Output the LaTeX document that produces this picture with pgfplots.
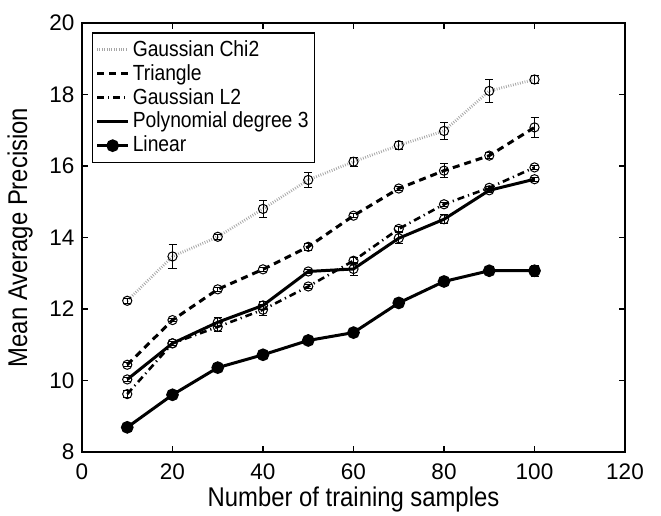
\documentclass[border=0pt]{standalone}
\usepackage{pgfplots}
\pgfplotsset{compat=1.18}
\usepackage{fontspec}
\setmainfont{Liberation Sans}
\newfontfamily\condfont{Liberation Sans}[FakeStretch=0.88]
\pgfplotsset{
  shortline/.style={legend image code/.code={\draw[##1] (0cm,0cm) -- (0.55cm,0cm);}},
  shortmark/.style={legend image code/.code={\draw[mark repeat=2, mark phase=2, ##1] plot coordinates {(0cm,0cm)(0.275cm,0cm)(0.55cm,0cm)};}},
}
\begin{document}
\fontsize{11}{13}\selectfont
\begin{tikzpicture}
\begin{axis}[
  scale only axis, width=271.5bp, height=214.5bp,
  xmin=0, xmax=120, ymin=8, ymax=20,
  xtick={0,20,...,120}, ytick={8,10,...,20},
  tick align=inside, major tick length=3bp,
  axis line style={line width=0.8bp}, every tick/.style={line width=0.6bp, black},
  /pgf/number format/assume math mode=true,
  tick label style={font=\fontsize{11.3}{13}\selectfont},
  xticklabel style={yshift=-2bp},
  xlabel={Number of training samples},
  ylabel={Mean Average Precision},
  every axis x label/.style={at={(axis description cs:0.5,-0.128)}, anchor=base, font=\condfont\fontsize{13.6}{15}\selectfont},
  every axis y label/.style={at={(axis description cs:-0.0902,0.5)}, rotate=90, anchor=south, inner sep=0pt, font=\condfont\fontsize{13.6}{15}\selectfont},
  legend style={at={(axis description cs:0.018,0.979)}, anchor=north west, draw=black, line width=0.8bp, fill=white, font=\condfont\fontsize{11}{13}\selectfont, inner xsep=1.5bp, inner ysep=1.5bp, row sep=-2bp,
    nodes={inner xsep=1.5bp, inner ysep=2.2bp}},
  legend cell align=left,
  shortline,
  error bars/error bar style={line width=0.5bp, black, solid},
  error bars/error mark options={rotate=90, mark size=2bp, line width=0.5bp, black, solid},
]
% Gaussian Chi2
\addplot[gray!70, line width=1.4bp, dash pattern=on 0.4bp off 0.8bp] coordinates {
(10,12.23)(20,13.47)(30,14.02)(40,14.80)(50,15.61)(60,16.12)(70,16.58)(80,16.98)(90,18.10)(100,18.42)};
\addlegendentry{Gaussian Chi2}
% Triangle
\addplot[black, line width=1.5bp, dash pattern=on 3.5bp off 2.5bp] coordinates {
(10,10.44)(20,11.69)(30,12.55)(40,13.11)(50,13.74)(60,14.61)(70,15.37)(80,15.87)(90,16.29)(100,17.08)};
\addlegendentry{Triangle}
% Gaussian L2
\addplot[black, line width=1.3bp, dash pattern=on 3.5bp off 2bp on 0.6bp off 2bp] coordinates {
(10,9.62)(20,11.04)(30,11.50)(40,11.98)(50,12.63)(60,13.35)(70,14.24)(80,14.93)(90,15.39)(100,15.96)};
\addlegendentry{Gaussian L2}
% Polynomial degree 3
\addplot[black, line width=1.5bp] coordinates {
(10,10.03)(20,11.04)(30,11.63)(40,12.10)(50,13.05)(60,13.12)(70,13.98)(80,14.51)(90,15.32)(100,15.63)};
\addlegendentry{Polynomial degree 3}
% Linear
\addplot[black, line width=1.5bp, mark=*, mark size=2.4bp, mark options={solid, fill=black}, shortmark,
  error bars/.cd, y dir=both, y explicit] coordinates {
(10,8.69) +- (0,0.05)
(20,9.60) +- (0,0.05)
(30,10.36) +- (0,0.05)
(40,10.72) +- (0,0.05)
(50,11.12) +- (0,0.05)
(60,11.34) +- (0,0.12)
(70,12.17) +- (0,0.08)
(80,12.77) +- (0,0.05)
(90,13.07) +- (0,0.07)
(100,13.07) +- (0,0.16)};
\addlegendentry{Linear}
% markers + error bars (open circles)
\addplot[forget plot, only marks, mark=o, mark size=2.3bp, mark options={black, line width=0.5bp, solid},
  error bars/.cd, y dir=both, y explicit] coordinates {
(10,12.23) +- (0,0.07)
(20,13.47) +- (0,0.33)
(30,14.02) +- (0,0.07)
(40,14.80) +- (0,0.24)
(50,15.61) +- (0,0.21)
(60,16.12) +- (0,0.12)
(70,16.58) +- (0,0.11)
(80,16.98) +- (0,0.25)
(90,18.10) +- (0,0.31)
(100,18.42) +- (0,0.10)};
\addplot[forget plot, only marks, mark=o, mark size=2.3bp, mark options={black, line width=0.5bp, solid},
  error bars/.cd, y dir=both, y explicit] coordinates {
(10,10.44) +- (0,0.05)
(20,11.69) +- (0,0.05)
(30,12.55) +- (0,0.05)
(40,13.11) +- (0,0.05)
(50,13.74) +- (0,0.10)
(60,14.61) +- (0,0.05)
(70,15.37) +- (0,0.05)
(80,15.87) +- (0,0.20)
(90,16.29) +- (0,0.08)
(100,17.08) +- (0,0.29)};
\addplot[forget plot, only marks, mark=o, mark size=2.3bp, mark options={black, line width=0.5bp, solid},
  error bars/.cd, y dir=both, y explicit] coordinates {
(10,9.62) +- (0,0.10)
(20,11.04) +- (0,0.05)
(30,11.50) +- (0,0.12)
(40,11.98) +- (0,0.15)
(50,12.63) +- (0,0.05)
(60,13.35) +- (0,0.08)
(70,14.24) +- (0,0.06)
(80,14.93) +- (0,0.06)
(90,15.39) +- (0,0.05)
(100,15.96) +- (0,0.06)};
\addplot[forget plot, only marks, mark=o, mark size=2.3bp, mark options={black, line width=0.5bp, solid},
  error bars/.cd, y dir=both, y explicit] coordinates {
(10,10.03) +- (0,0.05)
(20,11.04) +- (0,0.05)
(30,11.63) +- (0,0.12)
(40,12.10) +- (0,0.10)
(50,13.05) +- (0,0.05)
(60,13.12) +- (0,0.17)
(70,13.98) +- (0,0.15)
(80,14.51) +- (0,0.12)
(90,15.32) +- (0,0.05)
(100,15.63) +- (0,0.05)};
\end{axis}
\pgfresetboundingbox
\useasboundingbox (-41bp,-32bp) rectangle (289.5bp,226bp);
\end{tikzpicture}
\end{document}
